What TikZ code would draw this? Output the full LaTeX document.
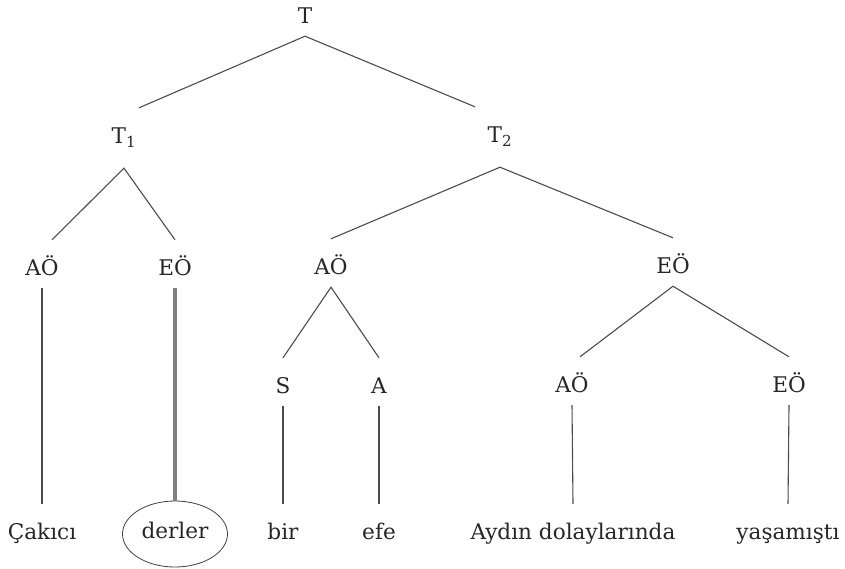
\documentclass[tikz,border=0pt]{standalone}
\usepackage{fontspec}
\setmainfont{DejaVu Serif}
\usetikzlibrary{shapes.geometric}

\begin{document}
\begin{tikzpicture}[x=1pt,y=-1pt,every node/.style={anchor=base,font=\fontsize{21.6}{26}\selectfont,text=black!85,text height=29pt,text depth=7pt,inner xsep=0pt,inner ysep=6pt},branch/.style={draw=black!70,line width=1.1pt},]
	\useasboundingbox (0,0) rectangle (845,568);
	    % create the nodes
		    \node (t) at (305,23) {T};
		    \node[text depth=19pt] (t1) at (124,143) {T\textsubscript{1}};
		    \node[text depth=19pt] (t2) at (500,142) {T\textsubscript{2}};
		    \node (ao1) at (42,275) {AÖ};
		    \node (eo1) at (175,275) {EÖ};
		    \node (ao2) at (331,274) {AÖ};
		    \node (eo2) at (673,273) {EÖ};
		    \node (s) at (283,393) {S};
		    \node (a) at (379,393) {A};
		    \node (ao3) at (572,392) {AÖ};
		    \node (eo3) at (789,392) {EÖ};
		    % the words
		    \node (w1) at (42,539) {Çakıcı};
		    \node[ellipse,draw=black!75,line width=0.8pt,text height=16pt,text depth=8pt,minimum width=105pt,minimum height=66pt] (w2) at (175,538) {derler};
		    \node (w3) at (283,539) {bir};
		    \node (w4) at (379,539) {efe};
		    \node (w5) at (573,539) {Aydın dolaylarında};
		    \node (w6) at (788,539) {yaşamıştı};
		% the branches
		\draw[branch] ([xshift=15pt]t1.north) -- (t.south) -- ([xshift=-25pt]t2.north);
		\draw[branch] ([xshift=10pt]ao1.north) -- (t1.south) -- (eo1.north);
		\draw[branch] (ao2.north) -- (t2.south) -- (eo2.north);
		\draw[branch] (s.north) -- (ao2.south) -- (a.north);
		\draw[branch] ([xshift=8pt]ao3.north) -- (eo2.south) -- (eo3.north);
		\draw[branch] (ao1.south) -- (w1.north);
		\draw[branch,draw=black!50,line width=3.2pt] (eo1.south) -- (w2.north);
		\draw[branch] (s.south) -- (w3.north);
		\draw[branch] (a.south) -- (w4.north);
		\draw[branch] (ao3.south) -- (w5.north);
		\draw[branch] (eo3.south) -- (w6.north);
		\end{tikzpicture}
\end{document}
